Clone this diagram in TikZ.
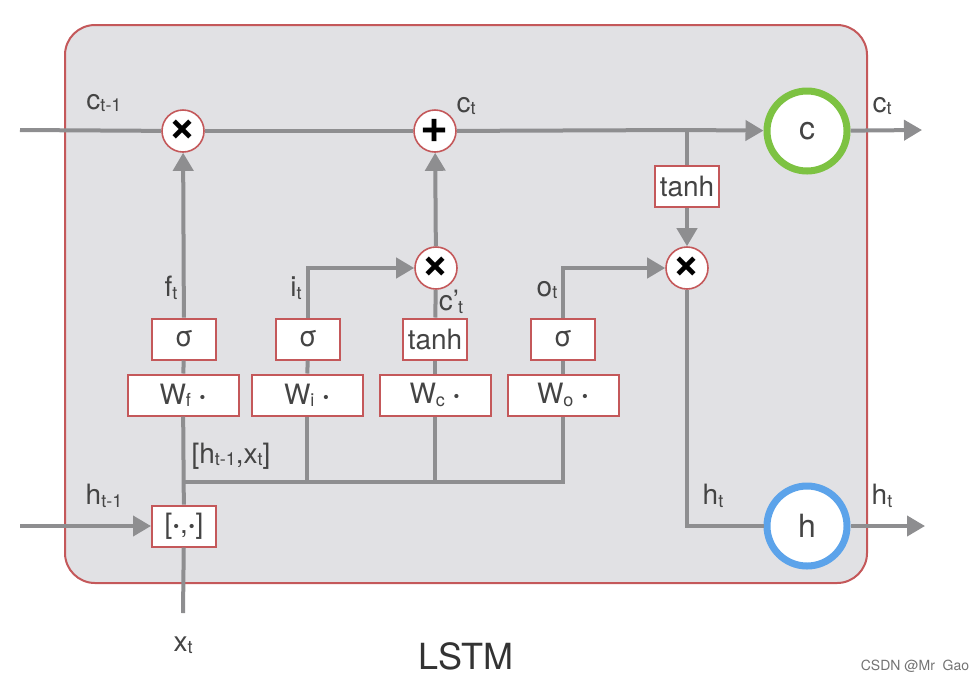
\documentclass[tikz,border=0pt]{standalone}
\usepackage{fontspec}
\setmainfont{TeX Gyre Heros}
\usetikzlibrary{arrows.meta}
\definecolor{cellgray}{HTML}{E1E1E4}
\definecolor{boxred}{HTML}{C4585A}
\definecolor{linegray}{HTML}{8E8E90}
\definecolor{txtgray}{HTML}{444444}
\definecolor{cgreen}{HTML}{7DC242}
\definecolor{hblue}{HTML}{5CA3EA}
\newcommand{\lsub}[2]{#1{\fontsize{9}{9}\selectfont\raisebox{-1.2pt}{#2}}}
\begin{document}
\begin{tikzpicture}[x=0.5pt,y=-0.5pt]
\tikzstyle{every node}=[text=txtgray, font=\fontsize{14}{16}\selectfont]
\tikzstyle{gate}=[draw=boxred, line width=1pt, fill=white, inner sep=0pt, minimum width=32pt, minimum height=20.5pt]
\tikzstyle{weight}=[gate, minimum width=55.5pt]
\tikzstyle{op}=[draw=boxred, circle, line width=0.8pt, fill=white, inner sep=0pt, minimum size=21pt, text=black, font=\fontsize{24}{24}\selectfont\bfseries]
\tikzstyle{state}=[circle, fill=white, line width=3.5pt, inner sep=0pt, minimum size=40pt, font=\fontsize{16}{16}\selectfont]
\tikzstyle{flow}=[draw=linegray, line width=2pt, >={Triangle[length=9pt,width=10pt]}]
\tikzstyle{lbl}=[inner sep=0pt]

\useasboundingbox (0,0) rectangle (977,681);
\draw[boxred, fill=cellgray, line width=1pt, rounded corners=15pt] (65,25) rectangle (867,583);

% inputs and outputs
\coordinate (cin) at (20,130);
\coordinate (hin) at (20,526);
\coordinate (xin) at (183,613);
\coordinate (cout) at (922,130);
\coordinate (hout) at (925,526);
\coordinate (br) at (687,130);
\coordinate (bus) at (183,482);

% operators
\node[op] (m1) at (183,131) {\raisebox{0.5pt}{×}};
\node[op] (p1) at (435,131) {\raisebox{0.5pt}{+}};
\node[op] (m2) at (436,268) {\raisebox{0.5pt}{×}};
\node[op] (m3) at (687,268) {\raisebox{0.5pt}{×}};
\node[state, draw=cgreen] (c) at (807,131) {c};
\node[state, draw=hblue] (h) at (807,526) {h};

% gates
\node[gate] (sf) at (184,339) {σ};
\node[gate] (si) at (308,339) {σ};
\node[gate] (tc) at (435,339) {tanh};
\node[gate] (so) at (563,339) {σ};
\node[gate] (th) at (687,186) {tanh};
\node[weight] (wf) at (183,395) {\lsub{W}{f}\ \textbf{·}};
\node[weight] (wi) at (307,395) {\lsub{W}{i}\ \textbf{·}};
\node[weight] (wc) at (435,395) {\lsub{W}{c}\ \textbf{·}};
\node[weight] (wo) at (563,395) {\lsub{W}{o}\ \textbf{·}};
\node[gate] (cc) at (184,526) {[\textbf{·},\textbf{·}]};

% connectors
\begin{scope}[flow]
\draw (cin) -- (m1);
\draw (m1) -- (p1);
\draw (p1) -- (br);
\draw[->] (br) -- (c);
\draw[->] (c) -- (cout);
\draw (br) -- (th);
\draw[->] (th) -- (m3);
\draw (m3) |- (h);
\draw[->] (h) -- (hout);
\draw[->] (hin) -- (cc);
\draw (xin) -- (cc);
\draw (cc) -- (wf);
\draw (wo) |- (bus);
\draw (wi) -- (wi |- bus);
\draw (wc) -- (wc |- bus);
\draw (wf) -- (sf);
\draw (wi) -- (si);
\draw (wc) -- (tc);
\draw (wo) -- (so);
\draw[->] (sf) -- (m1);
\draw[->] (si) |- (m2);
\draw (tc) -- (m2);
\draw[->] (m2) -- (p1);
\draw[->] (so) |- (m3);
\end{scope}

% labels
\node[lbl] (lc0) at (104,103) {\lsub{c}{t-1}};
\node[lbl] (lc1) at (466,106) {\lsub{c}{t}};
\node[lbl] (lc2) at (882,106) {\lsub{c}{t}};
\node[lbl] (lh0) at (104,496) {\lsub{h}{t-1}};
\node[lbl] (lh1) at (713,496) {\lsub{h}{t}};
\node[lbl] (lh2) at (882,496) {\lsub{h}{t}};
\node[lbl] (lf) at (171,288) {\lsub{f}{t}};
\node[lbl] (li) at (296,288) {\lsub{i}{t}};
\node[lbl] (lcp) at (451,302) {c’\kern-0.5pt{\fontsize{9}{9}\selectfont\raisebox{-1.2pt}{t}}};
\node[lbl] (lo) at (547,290) {\lsub{o}{t}};
\node[lbl] (lhx) at (231,456) {[\lsub{h}{t-1},\lsub{x}{t}]};
\node[lbl] (lx) at (183,645) {\lsub{x}{t}};
\node[lbl, font=\fontsize{18}{20}\selectfont, text=black!80] (title) at (466,656) {LSTM};
\node[lbl, font=\fontsize{7}{8}\selectfont, text=black!55] (mark) at (915,666) {CSDN @Mr\ \ Gao};
\end{tikzpicture}
\end{document}
